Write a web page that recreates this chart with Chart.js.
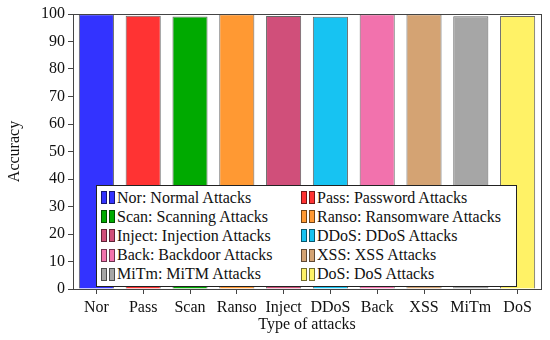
<!DOCTYPE html>
<html>
<head>
<meta charset="utf-8">
<script src="https://cdn.jsdelivr.net/npm/chart.js@4"></script>
<style>
  body { margin: 0; background: #fff; }
  #wrap { position: relative; width: 550px; height: 340px; }
  #legend {
    position: absolute; left: 96px; top: 185px; width: 421px; height: 102px;
    background: #fff; border: 1px solid #222; box-sizing: border-box;
    display: grid; grid-template-columns: 200px 216px; grid-auto-rows: 19.2px;
    padding: 2px 0 0 4px; font-family: "Liberation Serif", serif; font-size: 16px; color: #111;
  }
  .item { display: flex; align-items: center; white-space: nowrap; }
  .mk { display: inline-block; width: 4px; height: 11px; border: 1px solid rgba(0,0,0,0.55); margin-right: 2px; }
  .mk + .mk { margin-right: 2px; }
</style>
</head>
<body>
<div id="wrap">
  <canvas id="accChart" width="550" height="340"></canvas>
  <div id="legend"></div>
</div>
<script>
const labels = ['Nor', 'Pass', 'Scan', 'Ranso', 'Inject', 'DDoS', 'Back', 'XSS', 'MiTm', 'DoS'];
const legendNames = ['Normal Attacks', 'Password Attacks', 'Scanning Attacks', 'Ransomware Attacks', 'Injection Attacks',
  'DDoS Attacks', 'Backdoor Attacks', 'XSS Attacks', 'MiTM Attacks', 'DoS Attacks'];
const accuracy = [99.9, 99.4, 99.1, 99.9, 99.3, 99.0, 99.9, 99.9, 99.2, 99.3];
const colors = ['#3333ff', '#ff3333', '#00aa00', '#ff9933', '#d04f7a', '#17c3f2', '#f272ad', '#d4a373', '#a6a6a6', '#fff266'];

// legend html, two columns
const legendEl = document.getElementById('legend');
labels.forEach((lab, i) => {
  const div = document.createElement('div');
  div.className = 'item';
  div.innerHTML = '<span class="mk" style="background:' + colors[i] + '"></span>' +
    '<span class="mk" style="background:' + colors[i] + '"></span>' + lab + ': ' + legendNames[i];
  legendEl.appendChild(div);
});

// frame around the plot area
const frame = {
  id: 'frame',
  afterDraw(chart) {
    const { ctx, chartArea: a } = chart;
    ctx.save();
    ctx.strokeStyle = '#444';
    ctx.lineWidth = 1;
    ctx.strokeRect(a.left + 0.5, a.top + 0.5, a.right - a.left, a.bottom - a.top);
    ctx.restore();
  }
};

const font = { family: '"Liberation Serif", serif', size: 16 };

new Chart(document.getElementById('accChart'), {
  type: 'bar',
  data: {
    labels: labels,
    datasets: [{
      data: accuracy,
      backgroundColor: colors,
      borderColor: 'rgba(0,0,0,0.6)',
      borderWidth: 1,
      barPercentage: 0.75,
      categoryPercentage: 1
    }]
  },
  options: {
    responsive: false,
    animation: false,
    layout: { padding: { top: 14, right: 9, left: 0, bottom: 0 } },
    plugins: { legend: { display: false }, tooltip: { enabled: false } },
    scales: {
      x: {
        grid: { display: true, drawOnChartArea: false, offset: false, tickLength: 5, color: '#444' },
        border: { color: '#444' },
        ticks: { font: font, color: '#111', padding: 4, maxRotation: 0 },
        title: { display: true, text: 'Type of attacks', font: font, color: '#111', padding: { top: 0, bottom: 6 } },
        afterFit(s) { s.height = 51; }
      },
      y: {
        min: 0, max: 100,
        grid: { display: true, drawOnChartArea: false, tickLength: 5, color: '#444' },
        border: { color: '#444' },
        ticks: { stepSize: 10, font: font, color: '#111', padding: 3 },
        title: { display: true, text: 'Accuracy', font: font, color: '#111', padding: { top: 5, bottom: 0 } },
        afterFit(s) { s.width = 73; }
      }
    }
  },
  plugins: [frame]
});
</script>
</body>
</html>
